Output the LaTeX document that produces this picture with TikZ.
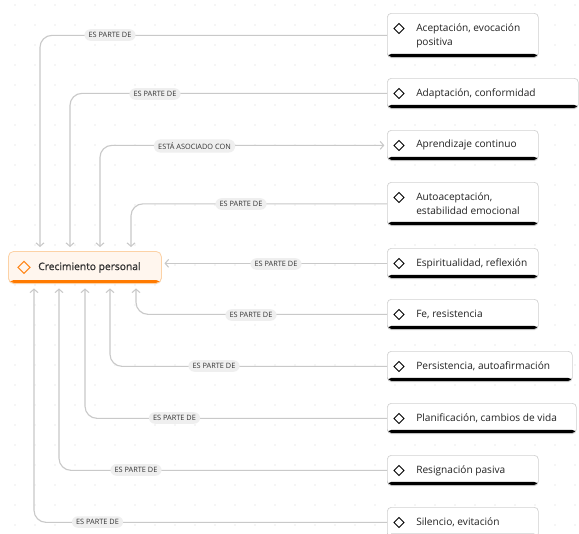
\documentclass[tikz,border=0pt]{standalone}
\usepackage{fontspec}
\setmainfont{Open Sans}
\newfontfamily\semib{Open Sans}[FakeBold=1.2]
\usetikzlibrary{arrows.meta,calc,shadows}
\definecolor{dotc}{HTML}{D4D4D4}
\definecolor{linec}{HTML}{C9C9C9}
\definecolor{pillc}{HTML}{EFEFEF}
\definecolor{txtc}{HTML}{222222}
\definecolor{orangebar}{HTML}{FF7A00}
\definecolor{orangeedge}{HTML}{FCD2A6}
\definecolor{orangefill}{HTML}{FFF6EE}
\tikzset{
  rbox/.style={draw=black!18, fill=white, rounded corners=3pt, line width=0.5pt,
    inner sep=0pt, anchor=north west,
    drop shadow={shadow xshift=0pt, shadow yshift=-0.8pt, opacity=0.12},
    path picture={\fill[black] ($(path picture bounding box.south west)+(0,-3.4)$) rectangle (path picture bounding box.south east);}},
  cbox/.style={draw=orangeedge, fill=orangefill, rounded corners=4pt, line width=0.6pt,
    inner sep=0pt, anchor=north west,
    drop shadow={shadow xshift=0pt, shadow yshift=-0.8pt, opacity=0.10},
    path picture={\fill[orangebar] ($(path picture bounding box.south west)+(0,-3.4)$) rectangle (path picture bounding box.south east);}},
  txt/.style={anchor=west, align=left, inner sep=0pt, text=txtc, font=\fontsize{7.6}{10.5}\selectfont},
  pill/.style={fill=pillc, rounded corners=4.5pt, inner xsep=3.2pt, inner ysep=2.3pt, text=black!80,
    font=\fontsize{5.5}{6.5}\selectfont},
  conn/.style={draw=linec, line width=0.85pt, rounded corners=9pt,
    -{Straight Barb[length=2.6pt,width=6pt,line width=0.8pt]}},
  dm/.pic={\draw[line width=0.75pt, line join=miter] (-5,0)--(0,-5)--(5,0)--(0,5)--cycle;},
  dmo/.pic={\draw[line width=0.8pt, orangebar!90, line join=miter] (-6,0)--(0,-6)--(6,0)--(0,6)--cycle;},
}
\begin{document}
\begin{tikzpicture}[x=0.75pt,y=-0.75pt]
\useasboundingbox (0,0) rectangle (579,533);
\fill[white] (0,0) rectangle (579,533);
\foreach \x in {15,35,...,575} \foreach \y in {5,25,...,525} \fill[dotc] (\x,\y) circle (0.5pt);

% central node
\node[cbox, minimum width=153*0.75pt, minimum height=32*0.75pt] (c) at (8,251) {};
\pic at ($(c.west)+(16,0)$) {dmo};
\node[txt, font=\semib\fontsize{7.7}{10}\selectfont, text=black!80] (ct) at ($(c.west)+(30,0)$) {Crecimiento personal};

% right nodes
\newcommand{\rnode}[6]{%
  \node[rbox, minimum width=#4*0.75pt, minimum height=#5*0.75pt] (#1) at (387,#2) {};
  \pic at ($(#1.north west)+(12,15.5)$) {dm};
  \node[txt] (#1t) at ($(#1.west)+(29,#3)$) {#6};}
\rnode{a1}{13}{0}{151}{44}{Aceptación, evocación\\positiva}
\rnode{a2}{78}{0}{191}{30}{Adaptación, conformidad}
\rnode{a3}{130}{0}{151}{30}{Aprendizaje continuo}
\rnode{a4}{182}{0}{151}{43}{Autoaceptación,\\estabilidad emocional}
\rnode{a5}{248}{0}{151}{30}{Espiritualidad, reflexión}
\rnode{a6}{299}{0}{151}{30}{Fe, resistencia}
\rnode{a7}{351}{0}{185}{30}{Persistencia, autoafirmación}
\rnode{a8}{403}{0}{189}{30}{Planificación, cambios de vida}
\rnode{a9}{455}{0}{151}{30}{Resignación pasiva}
\rnode{a10}{507}{0}{151}{30}{Silencio, evitación}

% connectors
\draw[conn, shorten >=3pt] (a1.west) -| ($(c.north west)+(32,0)$);
\draw[conn, shorten >=3pt] (a2.west) -| ($(c.north west)+(62,0)$);
\draw[conn, {Straight Barb[length=2.6pt,width=6pt,line width=0.8pt]}-{Straight Barb[length=2.6pt,width=6pt,line width=0.8pt]}, shorten <=3pt, shorten >=2pt] ($(c.north west)+(92,0)$) |- (a3.west);
\draw[conn, shorten >=3pt] (a4.west) -| ($(c.north west)+(123,0)$);
\draw[conn, shorten >=2pt] (a5.west) -- (c.east |- a5.west);
\draw[conn, shorten >=3.5pt] (a6.west) -| ($(c.south west)+(128,0)$);
\draw[conn, shorten >=3.5pt] (a7.west) -| ($(c.south west)+(102,0)$);
\draw[conn, shorten >=3.5pt] (a8.west) -| ($(c.south west)+(77,0)$);
\draw[conn, shorten >=3.5pt] (a9.west) -| ($(c.south west)+(51,0)$);
\draw[conn, shorten >=3.5pt] (a10.west) -| ($(c.south west)+(26,0)$);

% labels
\node[pill] (l1) at (110,35) {ES PARTE DE};
\node[pill] (l2) at (155,94) {ES PARTE DE};
\node[pill] (l3) at (194.5,146) {ESTÁ ASOCIADO CON};
\node[pill] (l4) at (241,204) {ES PARTE DE};
\node[pill] (l5) at (276,264) {ES PARTE DE};
\node[pill] (l6) at (251,315) {ES PARTE DE};
\node[pill] (l7) at (214,366) {ES PARTE DE};
\node[pill] (l8) at (174.5,418) {ES PARTE DE};
\node[pill] (l9) at (136,470) {ES PARTE DE};
\node[pill] (l10) at (97.5,522) {ES PARTE DE};
\end{tikzpicture}
\end{document}
